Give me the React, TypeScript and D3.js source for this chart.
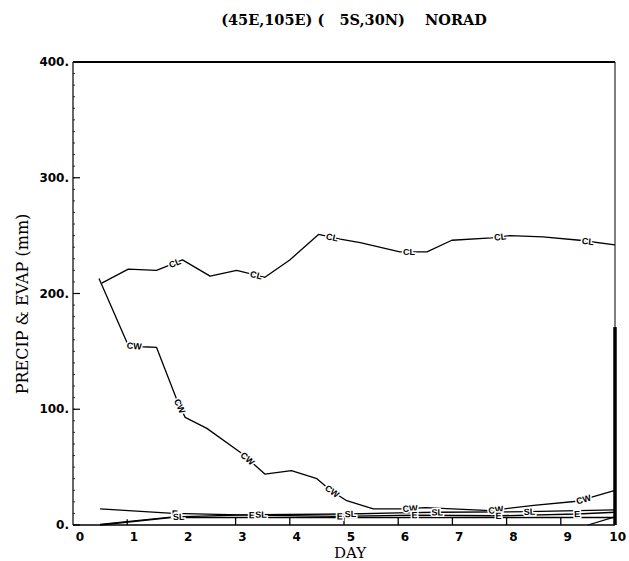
import React from "react";
import * as d3 from "d3";

type Pt = [number, number];

// ---- data (day, mm) ----
const titleText = "(45E,105E) (   5S,30N)    NORAD";
const yTicks = [0, 100, 200, 300, 400];
const yTickLabels = ["0.", "100.", "200.", "300.", "400."];
const xTicks = [0, 1, 2, 3, 4, 5, 6, 7, 8, 9, 10];
const xTickLabels = ["0", "1", "2", "3", "4", "5", "6", "7", "8", "9", "10"];

const clSeries: Pt[] = [
  [0.53, 209], [1.02, 221], [1.54, 220], [1.76, 224], [2.02, 229], [2.53, 215],
  [3.02, 220], [3.54, 214], [4.0, 229], [4.53, 251], [4.93, 247], [5.3, 244],
  [6.03, 236], [6.53, 236], [6.99, 246], [7.72, 248], [8.06, 250], [8.67, 249],
  [9.35, 246], [10.0, 242],
];
const clLabelDays = [1.88, 3.38, 4.78, 6.2, 7.88, 9.5];

const cwSeries: Pt[] = [
  [0.48, 213], [1.02, 155], [1.29, 154], [1.54, 153.5], [1.93, 106.5], [2.07, 93],
  [2.47, 83.5], [3.11, 62], [3.54, 44], [4.03, 47], [4.5, 40], [4.75, 30],
  [5.05, 21], [5.54, 14], [6.1, 14], [6.5, 15], [7.0, 14], [7.7, 12.5],
  [8.5, 17], [9.3, 20.5], [10.0, 30],
];
const cwLabelDays = [1.13, 1.97, 3.22, 4.78, 6.22, 7.8, 9.42];

const eSeries: Pt[] = [
  [0.5, 14], [1.85, 10], [3.3, 8.5], [4.9, 7.5], [6.3, 8.5], [7.85, 8],
  [9.3, 9.5], [10.0, 11],
];
const eLabelDays = [1.88, 3.3, 4.92, 6.3, 7.85, 9.3];

const slSeries: Pt[] = [
  [0.5, 0.5], [1.85, 7], [3.45, 9], [5.1, 9.5], [6.0, 10.5], [6.7, 11],
  [8.4, 11.5], [10.0, 13],
];
const slLabelDays = [1.95, 3.47, 5.12, 6.72, 8.42];

const boxSeries: Pt[] = [[0.5, 0], [1.85, 6.5], [10.0, 6.5]];
const boxTickDays = [1, 3, 4, 5, 6, 7, 8, 9];

const tailSeries: Pt[] = [[9.5, 0], [10.0, 7]];
const barSeries: Pt[] = [[10.0, 0], [10.0, 171]];

// ---- geometry ----
const W = 629;
const H = 561;
const x = d3.scaleLinear().domain([0, 10]).range([73, 615]);
const y = d3.scaleLinear().domain([0, 400]).range([525, 62]);

const line = d3
  .line<Pt>()
  .x((d) => x(d[0]))
  .y((d) => y(d[1]));

function interp(series: Pt[], day: number): number {
  const i = d3.bisector((p: Pt) => p[0]).right(series, day);
  if (i <= 0) return series[0][1];
  if (i >= series.length) return series[series.length - 1][1];
  const a = series[i - 1];
  const b = series[i];
  const t = (day - a[0]) / (b[0] - a[0]);
  return a[1] + t * (b[1] - a[1]);
}

function angleAt(series: Pt[], day: number): number {
  const d0 = day - 0.08;
  const d1 = day + 0.08;
  const dx = x(d1) - x(d0);
  const dy = y(interp(series, d1)) - y(interp(series, d0));
  let a = (Math.atan2(dy, dx) * 180) / Math.PI;
  if (a > 65) a = 65;
  if (a < -65) a = -65;
  return a;
}

const labelFont = "'Liberation Sans', Arial, sans-serif";
const tickFont = "'DejaVu Sans', sans-serif";
const serif = "'DejaVu Serif', 'Liberation Serif', serif";

function Labels({ series, days, text }: { series: Pt[]; days: number[]; text: string }) {
  return (
    <g>
      {days.map((d, i) => {
        const px = x(d);
        const py = y(interp(series, d));
        const a = angleAt(series, d);
        return (
          <text
            key={i}
            x={px}
            y={py}
            dy="0.35em"
            textAnchor="middle"
            transform={`rotate(${a},${px},${py})`}
            fontFamily={labelFont}
            fontWeight="bold"
            fontSize={9}
            fill="#000"
            stroke="#fff"
            strokeWidth={3}
            paintOrder="stroke"
          >
            {text}
          </text>
        );
      })}
    </g>
  );
}

export default function App() {
  const minor = d3.range(0, 401, 10);
  return (
    <svg
      width={W}
      height={H}
      viewBox={`0 0 ${W} ${H}`}
      style={{ position: "absolute", left: 0, top: 0, background: "#fff" }}
    >
      <rect x={0} y={0} width={W} height={H} fill="#fff" />
      {/* title */}
      <text
        x={354}
        y={25}
        textAnchor="middle"
        fontFamily={serif}
        fontWeight="bold"
        fontSize={14.5}
        style={{ whiteSpace: "pre" }}
        xmlSpace="preserve"
      >
        {titleText}
      </text>

      {/* frame */}
      <line x1={x(0)} x2={x(10)} y1={y(400)} y2={y(400)} stroke="#000" strokeWidth={2.2} />
      <line x1={x(10)} x2={x(10)} y1={y(400)} y2={y(0)} stroke="#000" strokeWidth={1} />
      <line x1={x(0)} x2={x(0)} y1={y(400)} y2={y(0)} stroke="#000" strokeWidth={1.2} />
      <line x1={x(0)} x2={x(10)} y1={y(0)} y2={y(0)} stroke="#000" strokeWidth={1.4} />

      {/* y minor ticks */}
      {minor.map((v) => (
        <line key={v} x1={x(0)} x2={x(0) + 2} y1={y(v)} y2={y(v)} stroke="#000" strokeWidth={0.8} />
      ))}
      {/* y major ticks */}
      {yTicks.map((v, i) => (
        <g key={v}>
          <line x1={x(0)} x2={x(0) + 7} y1={y(v)} y2={y(v)} stroke="#000" strokeWidth={1.2} />
          <text
            x={x(0) - 4}
            y={y(v)}
            dy="0.35em"
            textAnchor="end"
            fontFamily={tickFont}
            fontWeight="bold"
            fontSize={12}
          >
            {yTickLabels[i]}
          </text>
        </g>
      ))}
      {/* x tick labels */}
      {xTicks.map((d, i) => (
        <text
          key={d}
          x={x(d) + 11}
          y={541}
          textAnchor="end"
          fontFamily={tickFont}
          fontWeight="bold"
          fontSize={12}
        >
          {xTickLabels[i]}
        </text>
      ))}
      <text x={350} y={558} textAnchor="middle" fontFamily={serif} fontSize={15}>
        DAY
      </text>
      <text
        transform={`translate(28,304) rotate(-90)`}
        textAnchor="middle"
        fontFamily={serif}
        fontSize={16}
      >
        PRECIP &amp; EVAP (mm)
      </text>

      {/* series */}
      <g fill="none" stroke="#000" strokeWidth={1.3} strokeLinejoin="round">
        <path d={line(clSeries) || ""} />
        <path d={line(cwSeries) || ""} />
        <path d={line(eSeries) || ""} />
        <path d={line(slSeries) || ""} />
        <path d={line(boxSeries) || ""} />
        <path d={line(tailSeries) || ""} />
        {boxTickDays.map((d) => (
          <line key={d} x1={x(d)} x2={x(d)} y1={y(0)} y2={y(interp(boxSeries, d)) - (d === 1 ? 3 : 0)} />
        ))}
        <path d={line(barSeries) || ""} strokeWidth={3.5} />
      </g>

      <Labels series={clSeries} days={clLabelDays} text="CL" />
      <Labels series={cwSeries} days={cwLabelDays} text="CW" />
      <Labels series={eSeries} days={eLabelDays} text="E" />
      <Labels series={slSeries} days={slLabelDays} text="SL" />
    </svg>
  );
}
